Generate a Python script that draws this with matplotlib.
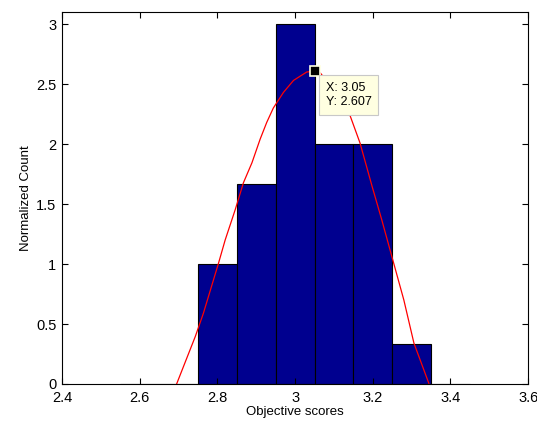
import matplotlib
matplotlib.use("Agg")
import matplotlib.pyplot as plt

plt.rcParams['font.family'] = ['Liberation Sans', 'DejaVu Sans']

# histogram bins (centers) and normalized counts
bin_centers = [2.6, 2.7, 2.8, 2.9, 3.0, 3.1, 3.2, 3.3, 3.4]
counts = [0, 0, 1.0, 1.667, 3.0, 2.0, 2.0, 0.333, 0]
bin_width = 0.1

# fitted curve
curve_x = [2.695, 2.743, 2.764, 2.803, 2.820, 2.846, 2.867, 2.889, 2.910,
           2.927, 2.944, 2.970, 2.996, 3.030, 3.050, 3.064, 3.100, 3.142,
           3.167, 3.198, 3.223, 3.249, 3.280, 3.306, 3.345]
curve_y = [0.0, 0.395, 0.59, 1.008, 1.20, 1.454, 1.677, 1.844, 2.04,
           2.18, 2.30, 2.43, 2.53, 2.60, 2.607, 2.596, 2.45, 2.233,
           2.01, 1.65, 1.37, 1.064, 0.70, 0.34, 0.0]

tip_x, tip_y = 3.05, 2.607

fig = plt.figure(figsize=(5.37, 4.23), dpi=100)
ax = fig.add_axes([0.1155, 0.0922, 0.868, 0.8794])

ax.bar(bin_centers, counts, width=bin_width, color='#00008F',
       edgecolor='black', linewidth=0.8)
ax.plot(curve_x, curve_y, color='red', lw=0.9)

# data tip
ax.plot(tip_x, tip_y, marker='s', ms=7, color='black',
        markeredgecolor='#FFFFE1', markeredgewidth=1.2, zorder=5)
ax.annotate('X: 3.05\nY: 2.607', xy=(tip_x, tip_y), xytext=(8, -7.5),
            textcoords='offset points', ha='left', va='top', fontsize=9,
            linespacing=1.3,
            bbox=dict(boxstyle='square,pad=0.5', fc='#FFFFE1', ec='#C8C8C8', lw=0.8),
            zorder=6)

ax.set_xlim(2.4, 3.6)
ax.set_ylim(0, 3.1)
ax.set_xticks([2.4, 2.6, 2.8, 3.0, 3.2, 3.4, 3.6])
ax.set_xticklabels(['2.4', '2.6', '2.8', '3', '3.2', '3.4', '3.6'])
ax.set_yticks([0, 0.5, 1, 1.5, 2, 2.5, 3])
ax.set_yticklabels(['0', '0.5', '1', '1.5', '2', '2.5', '3'])
ax.tick_params(direction='in', top=True, right=True, length=4, width=0.8,
               labelsize=10.5)
ax.tick_params(axis='x', pad=5)
ax.tick_params(axis='y', pad=4)
for s in ax.spines.values():
    s.set_linewidth(0.8)

ax.set_xlabel('Objective scores', fontsize=9.5, labelpad=1)
ax.set_ylabel('Normalized Count', fontsize=9.5, labelpad=3)

fig.savefig('out.png', dpi=100)
